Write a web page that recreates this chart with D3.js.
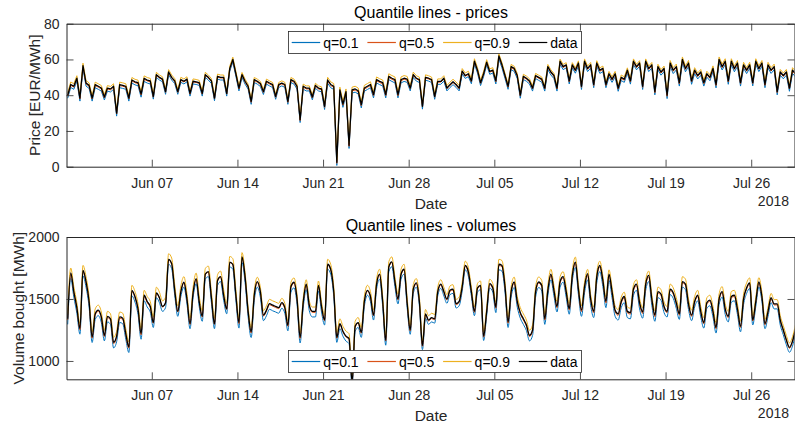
<!DOCTYPE html>
<html><head><meta charset="utf-8">
<script src="https://cdn.jsdelivr.net/npm/d3@7"></script>
<style>
body{margin:0;background:#fff}
svg{display:block}
text{font-family:"Liberation Sans",Arial,Helvetica,sans-serif;}
</style>
</head><body>
<svg id="c" width="795" height="428"></svg>
<script>
// ---------------- data ----------------
// samples every 6 h starting 2018-05-31 03:00 UTC (hours 3, 9, 15, 21 of each day)
const firstSample = Date.UTC(2018, 4, 31, 3);
const stepHours = 6;
const xDomain = [Date.UTC(2018, 4, 31, 0, 40), Date.UTC(2018, 6, 29, 12, 56)];

const tickDates = ["2018-06-07","2018-06-14","2018-06-21","2018-06-28","2018-07-05","2018-07-12","2018-07-19","2018-07-26"];
const tickLabels = ["Jun 07","Jun 14","Jun 21","Jun 28","Jul 05","Jul 12","Jul 19","Jul 26"];
const yearLabel = "2018";

const priceTicks = [0, 20, 40, 60, 80];
const priceDomain = [0, 80];
const volumeTicks = [1000, 1500, 2000];
const volumeDomain = [852, 2000];

const seriesNames = ["q=0.1", "q=0.5", "q=0.9", "data"];
const seriesColors = ["#0072BD", "#D95319", "#EDB120", "#000000"];

// observed prices [EUR/MWh]
const price = [
 40,46,45,49.5, 38.4,56.5,46.8,45.5, 38.4,45.9,45,44, 39,44,43.5,45, 30,45.9,45.5,45,
 38.4,48.5,47.5,47, 40.6,49.4,48.5,48, 39.3,51.5,50,49, 42,53,50,48, 42,48.7,47.8,49,
 41,47.8,47.5,47, 41,51.5,50,48, 38.4,50.5,50,50, 41,55,60,52, 44,51.5,47.8,45,
 36.5,48.7,47.8,46.5, 42,47.8,46.8,45.9, 39.3,45.9,46.8,46, 36.5,48.7,47.8,45, 26.3,45,44,44,
 39,45.5,44,43.5, 33.8,48.5,46,45, 2.5,43,35,42, 12,43,43.5,42.5, 34.7,44,45,46,
 40.3,48.7,47.7,47, 40.3,50.5,49.5,48.7, 40.3,48.7,49.5,49, 44,51.5,49.5,48.7, 33.8,50,49.5,48.7,
 39.3,47.7,47.7,49.5, 44,45.9,47.5,46, 44,53.5,51,52, 48,59,54,47, 52,58.5,53.3,54,
 48,62,57,51, 45,56,55,51, 40,50.5,49.5,48, 44,51,50,49, 44,56,53,51,
 44,59,56,57, 48,57,54,58, 45,59,55,57, 46,58,54,55, 46,52,49,52,
 44,50,49,54, 48,59,56,58, 45,59,55,57, 42,56,53,55, 40,58,54,56,
 47,60,55,58, 48,54,51,53, 47,52,50,55, 46,60,56,59, 48,59,55,58,
 47,57,54,57, 47,59,55,58, 46,57,54,56, 42,53,51,53, 44,54,52
];

// observed volumes bought [MWh]
const volume = [
 1340,1710,1560,1430, 1261,1731,1640,1480, 1194,1380,1410,1355, 1207,1360,1340,1150, 1200,1355,1345,1220,
 1113,1570,1520,1420, 1220,1530,1480,1440, 1310,1550,1510,1440, 1470,1820,1785,1570, 1400,1560,1635,1500,
 1300,1550,1664,1480, 1360,1700,1720,1510, 1300,1650,1680,1530, 1420,1798,1780,1530, 1310,1839,1680,1400,
 1234,1530,1640,1560, 1370,1410,1462,1450, 1440,1430,1470,1430, 1288,1600,1635,1500, 1190,1470,1620,1450,
 1400,1400,1610,1440, 1330,1780,1740,1560, 1190,1300,1240,1200, 1180,830,1280,1310, 1230,1480,1570,1520,
 1370,1620,1700,1480, 1167,1760,1800,1640, 1500,1700,1740,1470, 1250,1580,1630,1480, 1126,1380,1330,1350,
 1340,1560,1620,1560, 1500,1570,1580,1462, 1480,1600,1770,1720, 1560,1400,1590,1610, 1200,1400,1624,1590,
 1435,1780,1770,1600, 1315,1560,1637,1480, 1390,1340,1290,1207, 1250,1560,1637,1610, 1340,1570,1700,1570,
 1440,1640,1680,1560, 1422,1690,1798,1580, 1410,1600,1704,1500, 1400,1680,1770,1650, 1480,1700,1560,1410,
 1380,1480,1520,1400, 1390,1580,1620,1470, 1395,1620,1690,1500, 1370,1560,1540,1440, 1400,1580,1550,1470,
 1380,1640,1620,1460, 1370,1480,1530,1400, 1310,1470,1490,1400, 1270,1500,1560,1420, 1360,1520,1530,1420,
 1280,1500,1590,1630, 1330,1480,1637,1520, 1300,1400,1510,1460, 1460,1330,1250,1170, 1110,1160,1260
];

// quantile-line offsets from the data, one value per week
const priceQ10 = [-1.7,-1.5,-1.6,-1.8,-1.6,-1.7,-1.8,-1.9,-1.8];
const priceQ50 = [-0.5,-0.4,-0.5,-0.6,-0.4,-0.5,-0.6,-0.6,-0.5];
const priceQ90 = [1.4,1.3,1.2,1.5,1.4,1.2,1.3,1.4,1.4];
const volumeQ10 = [-45,-40,-45,-40,-35,-45,-50,-45,-40];
const volumeQ50 = [-10,-5,-8,-6,-8,-10,-12,-10,-8];
const volumeQ90 = [40,45,35,40,35,40,35,40,35];

// ---------------- drawing ----------------
const svg = d3.select("#c");
const left = 66.5, right = 794.5;
const x = d3.scaleUtc().domain(xDomain).range([left, right]);
const tickTimes = tickDates.map(s => new Date(s + "T00:00:00Z"));
const AX = "#262626";

function timeOf(i) { return new Date(firstSample + i * stepHours * 3600e3); }
function weekOf(i) { return Math.floor((i * stepHours + 3) / 24 / 7); }

function panel(cfg) {
  const y = d3.scaleLinear().domain(cfg.domain).range([cfg.bottom, cfg.top]);
  const g = svg.append("g");
  const clipId = "clip" + cfg.id;
  svg.append("clipPath").attr("id", clipId).append("rect")
    .attr("x", left).attr("y", cfg.top).attr("width", right - left).attr("height", cfg.bottom - cfg.top);

  const line = d3.line().curve(cfg.curve).x(d => x(d.t)).y(d => y(d.v));
  const offsets = [cfg.q10, cfg.q50, cfg.q90];
  const series = offsets.map(off => cfg.values.map((v, i) => ({t: timeOf(i), v: v + off[Math.min(weekOf(i), off.length - 1)]})));
  series.push(cfg.values.map((v, i) => ({t: timeOf(i), v})));
  const lg = g.append("g").attr("clip-path", `url(#${clipId})`);
  series.forEach((s, k) => {
    lg.append("path").datum(s).attr("d", line).attr("fill", "none")
      .attr("stroke", seriesColors[k]).attr("stroke-width", k === 3 ? 1.3 : 1.0)
      .attr("stroke-linejoin", "round");
  });

  // axes box
  const xb = g.append("g").attr("transform", `translate(0,${cfg.bottom})`)
    .call(d3.axisBottom(x).tickValues(tickTimes).tickFormat((d, i) => tickLabels[i]).tickSizeInner(-7).tickSizeOuter(0).tickPadding(11));
  const xt = g.append("g").attr("transform", `translate(0,${cfg.top})`)
    .call(d3.axisTop(x).tickValues(tickTimes).tickFormat("").tickSizeInner(-7).tickSizeOuter(0));
  const yl = g.append("g").attr("transform", `translate(${left},0)`)
    .call(d3.axisLeft(y).tickValues(cfg.ticks).tickFormat(d3.format("d")).tickSizeInner(-7).tickSizeOuter(0).tickPadding(7));
  const yr = g.append("g").attr("transform", `translate(${right},0)`)
    .call(d3.axisRight(y).tickValues(cfg.ticks).tickFormat("").tickSizeInner(-7).tickSizeOuter(0));
  [xb, xt, yl, yr].forEach(a => {
    a.select(".domain").attr("stroke", AX).attr("stroke-width", 1);
    a.selectAll(".tick line").attr("stroke", AX).attr("stroke-width", 0.8);
    a.selectAll("text").attr("fill", AX).style("font-size", "14px").attr("font-family", null);
  });

  // labels
  g.append("text").attr("x", 431).attr("y", cfg.top - 6).attr("text-anchor", "middle")
    .style("font-size", "16px").attr("fill", "#000").text(cfg.title);
  g.append("text").attr("x", 431).attr("y", cfg.bottom + 42).attr("text-anchor", "middle")
    .style("font-size", "15.5px").attr("fill", AX).text("Date");
  g.append("text").attr("x", 789).attr("y", cfg.bottom + 39).attr("text-anchor", "end")
    .style("font-size", "14px").attr("fill", AX).text(yearLabel);
  g.append("text").attr("transform", `translate(${cfg.ylx},${(cfg.top + cfg.bottom) / 2}) rotate(-90)`)
    .attr("text-anchor", "middle").style("font-size", "15.5px").attr("fill", AX).text(cfg.ylabel);

  // legend
  const L = svg.append("g");
  L.append("rect").attr("x", 288.5).attr("y", cfg.legY).attr("width", 293).attr("height", 22)
    .attr("fill", "#fff").attr("stroke", AX).attr("stroke-width", 0.8);
  seriesNames.forEach((n, k) => {
    const x0 = 291.7 + k * 75.7, ym = cfg.legY + 11;
    L.append("line").attr("x1", x0).attr("x2", x0 + 28.5).attr("y1", ym).attr("y2", ym)
      .style("stroke", seriesColors[k]).style("stroke-width", "1.2px");
    L.append("text").attr("x", x0 + 31.5).attr("y", ym + 5).style("font-size", "14px").attr("fill", "#000").text(n);
  });
}

panel({id: "p", values: price, q10: priceQ10, q50: priceQ50, q90: priceQ90, curve: d3.curveLinear,
  domain: priceDomain, ticks: priceTicks, top: 23.7, bottom: 166.7,
  title: "Quantile lines - prices", ylabel: "Price [EUR/MWh]", ylx: 39.5, legY: 31.5});
panel({id: "v", values: volume, q10: volumeQ10, q50: volumeQ50, q90: volumeQ90, curve: d3.curveMonotoneX,
  domain: volumeDomain, ticks: volumeTicks, top: 237, bottom: 379.3,
  title: "Quantile lines - volumes", ylabel: "Volume bought [MWh]", ylx: 24, legY: 350.5});
</script>
</body></html>
